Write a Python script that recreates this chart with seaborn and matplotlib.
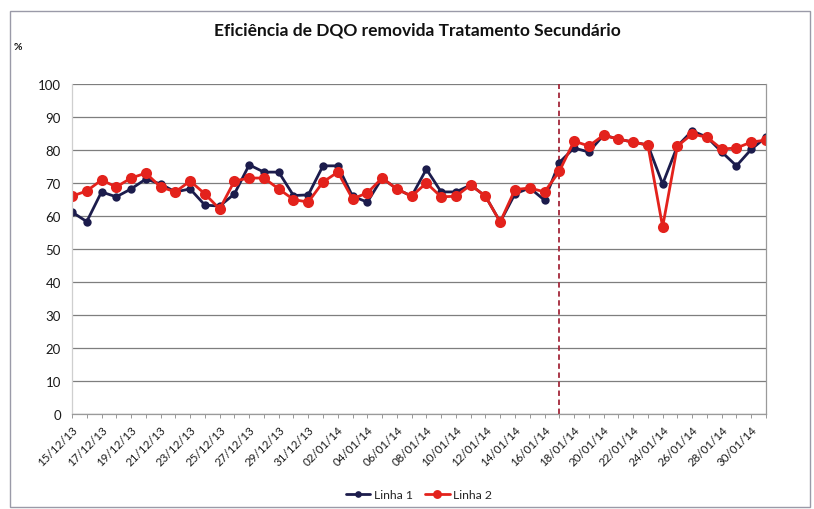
import matplotlib
matplotlib.use("Agg")
import matplotlib.pyplot as plt
from matplotlib.patches import Rectangle
import seaborn as sns
import pandas as pd

# Daily dates, 15/12/2013 to 31/01/2014
datas = pd.date_range("2013-12-15", "2014-01-31", freq="D")
rotulos = [d.strftime("%d/%m/%y") for d in datas]

# COD removal efficiency (%) per line
linha1 = [61.2, 58.3, 67.3, 65.8, 68.2, 71.2, 69.7, 67.3, 68.2, 63.3,
          63.0, 66.7, 75.5, 73.3, 73.3, 66.2, 66.4, 75.2, 75.2, 66.0,
          64.2, 71.5, 68.2, 66.0, 74.2, 67.3, 67.3, 69.4, 66.0, 58.2,
          66.7, 68.5, 64.8, 76.2, 80.6, 79.4, 84.5, 83.3, 82.4, 81.5,
          69.7, 81.2, 85.8, 83.9, 79.4, 75.2, 80.2, 83.9]
linha2 = [66.0, 67.6, 70.9, 68.8, 71.5, 73.0, 68.8, 67.3, 70.6, 66.7,
          62.1, 70.6, 71.5, 71.5, 68.2, 65.0, 64.2, 70.3, 73.3, 65.2,
          67.0, 71.5, 68.2, 66.0, 70.0, 65.8, 66.0, 69.4, 66.0, 58.2,
          68.0, 68.5, 67.3, 73.5, 82.7, 81.2, 84.5, 83.3, 82.4, 81.5,
          56.7, 81.2, 84.8, 83.9, 80.3, 80.6, 82.4, 83.0]

marco = "17/01/14"  # start of the second period

df = pd.DataFrame({"pos": list(range(len(rotulos))) * 2,
                   "valor": linha1 + linha2,
                   "serie": ["Linha 1"] * len(linha1) + ["Linha 2"] * len(linha2)})

sns.set_theme(style="white")
plt.rcParams["font.family"] = ["Lato", "DejaVu Sans"]

fig = plt.figure(figsize=(8.14, 5.10), dpi=100)
ax = fig.add_axes([72 / 814, 1 - 415 / 510, (766 - 72) / 814, (415 - 85) / 510])

# outer chart frame
fig.patches.append(Rectangle((10 / 814, 2 / 510), 800 / 814, 496 / 510,
                             transform=fig.transFigure, fill=False,
                             edgecolor="#9a9aa8", linewidth=1.0))

cores = {"Linha 1": "#1c1c4c", "Linha 2": "#e3221c"}
sns.lineplot(data=df[df.serie == "Linha 1"], x="pos", y="valor", color=cores["Linha 1"],
             marker="o", markersize=6, markeredgewidth=0, linewidth=2.0,
             label="Linha 1", ax=ax)
sns.lineplot(data=df[df.serie == "Linha 2"], x="pos", y="valor", color=cores["Linha 2"],
             marker="o", markersize=8, markeredgewidth=0, linewidth=2.0,
             label="Linha 2", ax=ax)

ax.axvline(rotulos.index(marco), color="#a4283a", linestyle=(0, (3, 2)), linewidth=1.3, zorder=1)

ax.set_xlim(0, len(rotulos) - 1)
ax.set_ylim(0, 100)
ax.set_yticks(range(0, 101, 10))
ax.yaxis.grid(True, color="#7e7e7e", linewidth=0.9)
ax.set_axisbelow(True)
ax.tick_params(axis="y", length=0, labelsize=9.5, pad=8, labelcolor="#1a1a1a")

ax.set_xticks(range(len(rotulos)))
ax.set_xticklabels([r if i % 2 == 0 else "" for i, r in enumerate(rotulos)],
                   rotation=45, ha="right", rotation_mode="anchor", fontsize=8.3)
ax.tick_params(axis="x", length=3, width=0.6, color="#888888", direction="out",
               bottom=True, pad=4, labelcolor="#1a1a1a")
ax.set_xlabel("")
ax.set_ylabel("")

for lado in ["left", "bottom", "right"]:
    ax.spines[lado].set_visible(True)
    ax.spines[lado].set_color("#9a9a9a")
    ax.spines[lado].set_linewidth(0.9)
ax.spines["left"].set_color("#cfcfcf")
ax.spines["top"].set_visible(False)

fig.text(417 / 814, 1 - 30 / 510, "Eficiência de DQO removida Tratamento Secundário",
         ha="center", va="center", fontsize=12.5, fontweight="bold", color="#111111")
fig.text(14 / 814, 1 - 47 / 510, "%", ha="left", va="center", fontsize=7.5,
         fontweight="bold", color="#111111")

ax.legend(loc="center", bbox_to_anchor=(419 / 814, 1 - 496 / 510),
          bbox_transform=fig.transFigure, ncol=2, frameon=False, fontsize=8.8,
          handlelength=2.0, columnspacing=1.0, handletextpad=0.3, markerscale=0.8)

fig.savefig("out.png", dpi=100)
